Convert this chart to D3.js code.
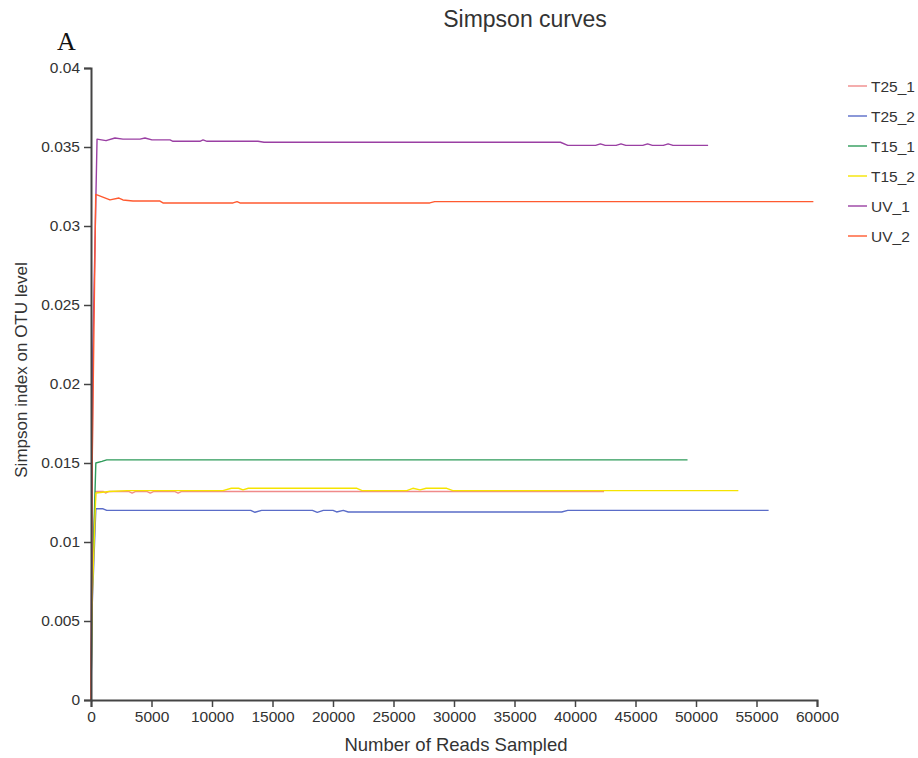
<!DOCTYPE html>
<html>
<head>
<meta charset="utf-8">
<script src="https://cdn.jsdelivr.net/npm/d3@7"></script>
<style>
  body { margin: 0; background: #fff; }
  text { font-family: "Liberation Sans", Arial, sans-serif; }
</style>
</head>
<body>
<div id="chart"></div>
<script>
// Series names and colors
const seriesNames = ["T25_1", "T25_2", "T15_1", "T15_2", "UV_1", "UV_2"];
const seriesColors = ["#f08a8a", "#5a6cc8", "#2e9b5a", "#f5e400", "#9a3fa3", "#ff5a30"];

// Reads sampled (x) and Simpson index (y)
const t25_1Reads = [0, 120, 400, 1000, 1200, 1500, 3100, 3400, 3700, 4600, 4900, 5200, 6900, 7200, 7500, 42400];
const t25_1Vals = [0, 0.009, 0.0132, 0.0132, 0.0131, 0.0132, 0.0132, 0.0131, 0.0132, 0.0132, 0.0131, 0.0132, 0.0132, 0.0131, 0.0132, 0.0132];

const t25_2Reads = [0, 100, 400, 1000, 1300, 13200, 13550, 14100, 18300, 18700, 19200, 20000, 20300, 20850, 21260, 38900, 39400, 56000];
const t25_2Vals = [0, 0.006, 0.0121, 0.0121, 0.0120, 0.0120, 0.01188, 0.0120, 0.0120, 0.01188, 0.0120, 0.0120, 0.0119, 0.0120, 0.0119, 0.0119, 0.0120, 0.0120];

const t15_1Reads = [0, 100, 400, 900, 1300, 49300];
const t15_1Vals = [0, 0.007, 0.0150, 0.0151, 0.0152, 0.0152];

const t15_2Reads = [0, 80, 400, 1500, 3000, 10900, 11600, 12200, 12560, 13000, 21980, 22400, 26100, 26600, 27190, 27700, 29400, 29900, 53500];
const t15_2Vals = [0, 0.006, 0.0131, 0.0132, 0.01325, 0.01325, 0.0134, 0.0134, 0.0133, 0.0134, 0.0134, 0.01325, 0.01325, 0.0134, 0.0133, 0.0134, 0.0134, 0.01325, 0.01325];

const uv1Reads = [0, 150, 500, 1240, 1980, 2640, 4050, 4460, 5040, 6530, 6780, 9000, 9260, 9590, 13800, 14300, 38800, 39400, 41700, 42100, 42500, 43400, 43800, 44200, 45600, 46000, 46400, 47300, 47700, 48100, 51000];
const uv1Vals = [0, 0.022, 0.0355, 0.0354, 0.03557, 0.0355, 0.0355, 0.03557, 0.03545, 0.03545, 0.03536, 0.03536, 0.03545, 0.03536, 0.03536, 0.0353, 0.0353, 0.0351, 0.0351, 0.0352, 0.0351, 0.0351, 0.0352, 0.0351, 0.0351, 0.0352, 0.0351, 0.0351, 0.0352, 0.0351, 0.0351];

const uv2Reads = [0, 100, 390, 1570, 2310, 2640, 3470, 5700, 5950, 11740, 12070, 12310, 28000, 28400, 59700];
const uv2Vals = [0, 0.015, 0.0320, 0.03165, 0.03177, 0.03165, 0.03158, 0.03158, 0.03146, 0.03146, 0.03154, 0.03146, 0.03146, 0.03154, 0.03154];

const seriesReads = [t25_1Reads, t25_2Reads, t15_1Reads, t15_2Reads, uv1Reads, uv2Reads];
const seriesVals = [t25_1Vals, t25_2Vals, t15_1Vals, t15_2Vals, uv1Vals, uv2Vals];

// Tick labels
const xTicks = [0, 5000, 10000, 15000, 20000, 25000, 30000, 35000, 40000, 45000, 50000, 55000, 60000];
const yTicks = [0, 0.005, 0.01, 0.015, 0.02, 0.025, 0.03, 0.035, 0.04];

const width = 918, height = 758;
const margin = { top: 68, right: 101, bottom: 58, left: 91 };
const innerW = width - margin.left - margin.right;
const innerH = height - margin.top - margin.bottom;

const svg = d3.select("#chart")
    .append("svg")
    .attr("width", width)
    .attr("height", height);

const g = svg.append("g")
    .attr("transform", "translate(" + margin.left + "," + margin.top + ")");

const scaleX = d3.scaleLinear().domain([0, 60000]).range([0, innerW]);
const scaleY = d3.scaleLinear().domain([0, 0.04]).range([innerH, 0]);

// Lines
const lineFunc = d3.line()
    .x(d => scaleX(d[0]))
    .y(d => scaleY(d[1]));

seriesNames.forEach((name, i) => {
    const pts = seriesReads[i].map((r, k) => [r, seriesVals[i][k]]);
    g.append("path")
        .attr("d", lineFunc(pts))
        .attr("fill", "none")
        .attr("stroke", seriesColors[i])
        .attr("stroke-width", 1.4)
        .attr("stroke-linejoin", "round");
});

// Axes
const xAxis = g.append("g")
    .attr("transform", "translate(0," + innerH + ")")
    .call(d3.axisBottom(scaleX).tickValues(xTicks).tickFormat(d => String(d)).tickSize(7).tickPadding(4));

const yAxis = g.append("g")
    .call(d3.axisLeft(scaleY).tickValues(yTicks).tickFormat(d => String(d)).tickSize(7).tickPadding(4));

[xAxis, yAxis].forEach(ax => {
    ax.select(".domain").attr("stroke", "#444").attr("stroke-width", 2);
    ax.selectAll(".tick line").attr("stroke", "#444").attr("stroke-width", 1.5);
    ax.selectAll(".tick text")
        .attr("fill", "#333")
        .style("font-size", "15.5px")
        .style("font-family", "'Liberation Sans', Arial, sans-serif");
});

// Titles
svg.append("text")
    .attr("x", 525).attr("y", 27)
    .attr("text-anchor", "middle")
    .attr("fill", "#333")
    .style("font-size", "23px")
    .text("Simpson curves");

svg.append("text")
    .attr("x", 57).attr("y", 50)
    .attr("fill", "#111")
    .style("font-family", "'Liberation Serif', 'Times New Roman', serif")
    .style("font-size", "26px")
    .text("A");

svg.append("text")
    .attr("x", 456).attr("y", 751)
    .attr("text-anchor", "middle")
    .attr("fill", "#333")
    .style("font-size", "18.5px")
    .text("Number of Reads Sampled");

svg.append("text")
    .attr("transform", "translate(27,370) rotate(-90)")
    .attr("text-anchor", "middle")
    .attr("fill", "#333")
    .style("font-size", "17px")
    .text("Simpson index on OTU level");

// Legend
const legend = svg.append("g").attr("transform", "translate(848,86)");
seriesNames.forEach((name, i) => {
    const row = legend.append("g").attr("transform", "translate(0," + (i * 30) + ")");
    row.append("line")
        .attr("x1", 0).attr("x2", 19)
        .attr("y1", 0).attr("y2", 0)
        .attr("stroke", seriesColors[i])
        .attr("stroke-width", 1.4);
    row.append("text")
        .attr("x", 23).attr("y", 5.5)
        .attr("fill", "#333")
        .style("font-size", "15.5px")
        .text(name);
});
</script>
</body>
</html>
